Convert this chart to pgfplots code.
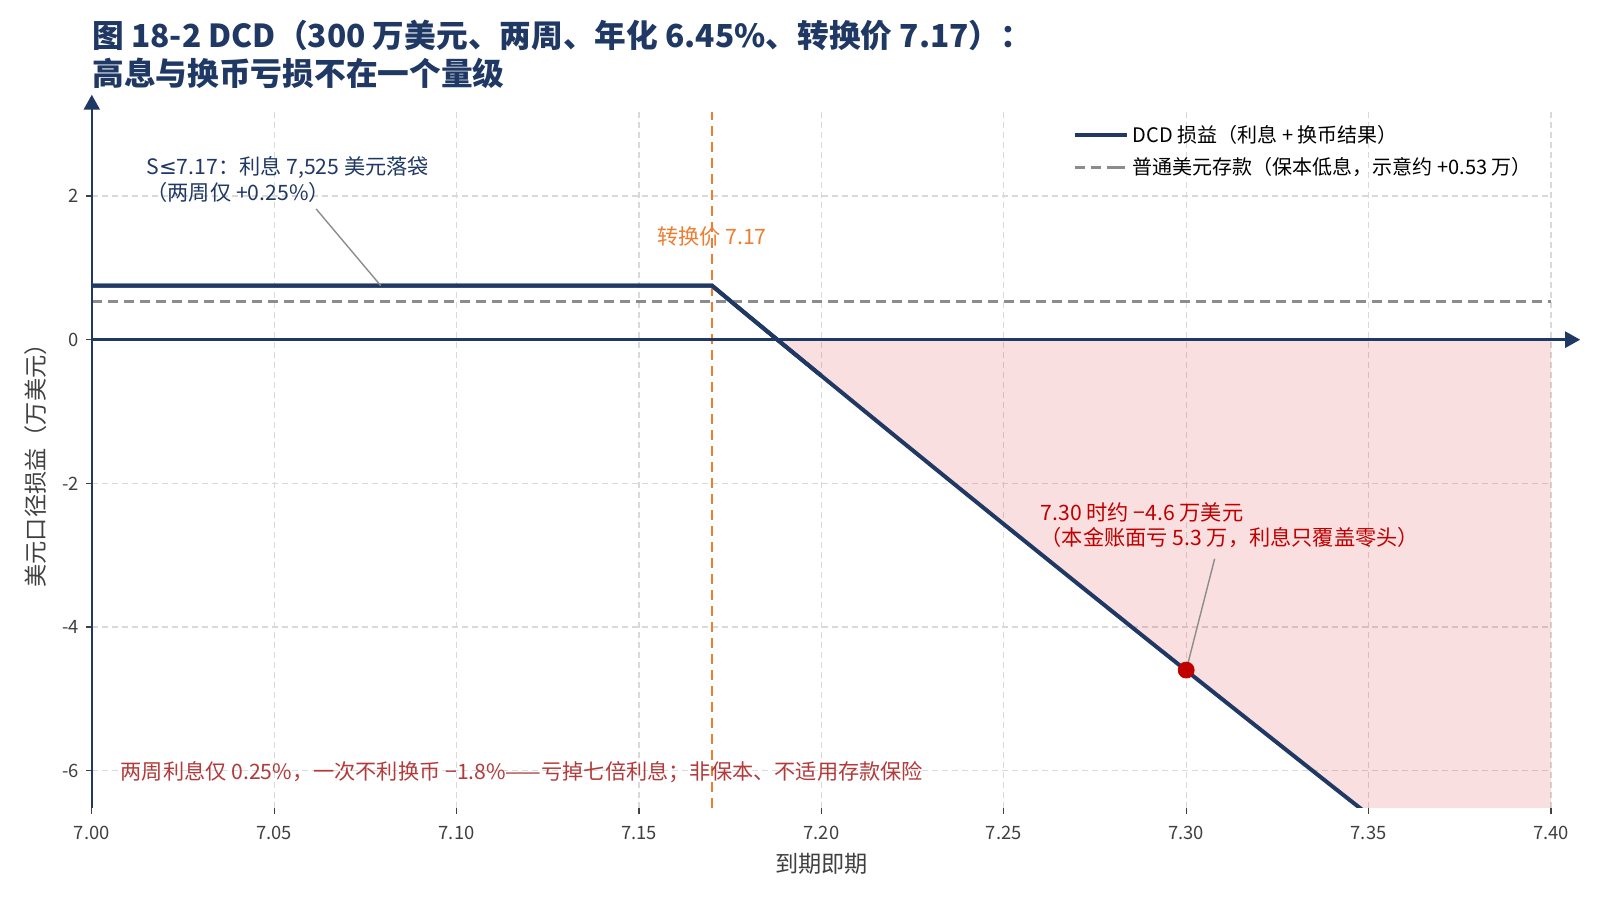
\documentclass[border=0pt]{standalone}
\usepackage{fontspec}
\setmainfont{Noto Sans CJK SC}
\newfontfamily\dejavu{DejaVu Sans}
\usepackage{pgfplots}
\pgfplotsset{compat=1.18}
\usetikzlibrary{arrows.meta}
\definecolor{navy}{HTML}{1F3864}
\definecolor{orng}{HTML}{ED7D31}
\definecolor{dgray}{HTML}{8C8C8C}
\definecolor{pinkbase}{HTML}{D62728}
\definecolor{dred}{HTML}{C00000}
\definecolor{brred}{HTML}{B23A3A}
\definecolor{gridc}{HTML}{D9D9D9}
\definecolor{tickc}{HTML}{404040}
\begin{document}
\begin{tikzpicture}
\path[use as bounding box] (0,0) rectangle (800bp,450bp);
\node[anchor=base west, inner sep=0pt, text=navy, font=\fontsize{15.85bp}{18bp}\selectfont\bfseries] at (46bp,426bp) {图 18-2 DCD（300 万美元、两周、年化 6.45\%、转换价 7.17）：};
\node[anchor=base west, inner sep=0pt, text=navy, font=\fontsize{15.85bp}{18bp}\selectfont\bfseries] at (46bp,407bp) {高息与换币亏损不在一个量级};
\begin{axis}[
  at={(45.9bp,46bp)}, anchor=south west,
  width=729.6bp, height=348bp, scale only axis,
  xmin=7.0, xmax=7.40, ymin=-6.52, ymax=3.17,
  xtick={7.00,7.05,7.10,7.15,7.20,7.25,7.30,7.35,7.40},
  ytick={-6,-4,-2,0,2},
  xticklabel style={yshift=-2.5bp, /pgf/number format/.cd, fixed, fixed zerofill, precision=2},
  /pgf/number format/assume math mode=true,
  ticklabel style={font=\fontsize{9.2bp}{10bp}\selectfont, text=tickc},
  axis line style={draw=none},
  tick style={color=tickc, line width=0.6bp},
  major tick length=3bp,
  tick align=outside,
  xtick pos=bottom, ytick pos=left,
  grid=major,
  grid style={color=gridc, line width=0.6bp, dash pattern=on 3bp off 2bp},
  xlabel={到期即期}, ylabel={美元口径损益（万美元）},
  every axis x label/.style={at={(rel axis cs:0.5,0)}, yshift=-28bp, anchor=center, font=\fontsize{11.6bp}{13bp}\selectfont, text=tickc},
  every axis y label/.style={at={(rel axis cs:0,0.5)}, xshift=-28bp, rotate=90, anchor=center, font=\fontsize{11.6bp}{13bp}\selectfont, text=tickc},
  legend style={at={(rel axis cs:0.668,0.993)}, anchor=north west, draw=none, fill=none, font=\fontsize{10bp}{11.5bp}\selectfont, row sep=2bp, cells={anchor=west}},
  legend image code/.code={\draw[#1] (0bp,0bp) -- (20bp,0bp); \path (20bp,0bp) -- (26bp,0bp);},
]
% pink loss area
\addplot[draw=none, fill=pinkbase, fill opacity=0.15, forget plot] coordinates {
 (7.1879,0) (7.19,-0.087) (7.20,-0.503) (7.21,-0.918) (7.22,-1.333) (7.23,-1.746)
 (7.24,-2.158) (7.25,-2.569) (7.26,-2.978) (7.27,-3.387) (7.28,-3.794) (7.29,-4.201)
 (7.30,-4.606) (7.31,-5.010) (7.32,-5.413) (7.33,-5.815) (7.34,-6.216) (7.35,-6.615)
 (7.36,-7.014) (7.38,-7.808) (7.40,-8.598) (7.40,0) } -- cycle;
% DCD payoff
\addplot[navy, line width=2bp] coordinates {
 (7.00,0.7525) (7.17,0.7525) (7.18,0.331) (7.19,-0.087) (7.20,-0.503) (7.21,-0.918)
 (7.22,-1.333) (7.23,-1.746) (7.24,-2.158) (7.25,-2.569) (7.26,-2.978) (7.27,-3.387)
 (7.28,-3.794) (7.29,-4.201) (7.30,-4.606) (7.31,-5.010) (7.32,-5.413) (7.33,-5.815)
 (7.34,-6.216) (7.35,-6.615) (7.36,-7.014) };
\addlegendentry{DCD 损益（利息 + 换币结果）}
% plain deposit
\addplot[dgray, line width=1.5bp, dash pattern=on 5bp off 3bp] coordinates {(7.00,0.53) (7.40,0.53)};
\addlegendentry{普通美元存款（保本低息，示意约 +0.53 万）}
% strike
\addplot[orng, line width=1.35bp, dash pattern=on 5bp off 3bp, forget plot] coordinates {(7.17,-6.52) (7.17,3.17)};
% redraw payoff above strike line
\addplot[navy, line width=2bp, forget plot] coordinates {
 (7.00,0.7525) (7.17,0.7525) (7.18,0.331) (7.19,-0.087) (7.20,-0.503) };
% marker
\addplot[only marks, mark=*, mark size=4bp, color=dred, forget plot] coordinates {(7.30,-4.6)};
% annotations
\draw[dgray, line width=0.7bp] (axis cs:7.0615,1.82) -- (axis cs:7.0792,0.7525);
\node[anchor=north west, inner sep=0pt, align=left, text=navy, font=\fontsize{10.6bp}{12.8bp}\selectfont] at (axis cs:7.0149,2.55) {S{\dejavu ≤}7.17：利息 7,525 美元落袋\\（两周仅 +0.25\%）};
\node[anchor=center, inner sep=0pt, text=orng, font=\fontsize{10.6bp}{12bp}\selectfont] at (axis cs:7.17,1.436) {转换价 7.17};
\draw[dgray, line width=0.7bp] (axis cs:7.3078,-3.05) -- (axis cs:7.30,-4.6);
\node[anchor=north west, inner sep=0pt, align=left, text=dred, font=\fontsize{10.6bp}{12.8bp}\selectfont] at (axis cs:7.260,-2.26) {7.30 时约 −4.6 万美元\\（本金账面亏 5.3 万，利息只覆盖零头）};
\node[anchor=west, inner sep=0pt, text=brred, font=\fontsize{10.6bp}{12bp}\selectfont] at (axis cs:7.0078,-6.02) {两周利息仅 0.25\%，一次不利换币 −1.8\%——亏掉七倍利息；非保本、不适用存款保险};
\coordinate (yb) at (axis cs:7.00,-6.52);
\coordinate (yt) at (axis cs:7.00,3.41);
\coordinate (xl) at (axis cs:7.00,0);
\coordinate (xr) at (axis cs:7.408,0);
\end{axis}
\draw[navy, line width=1.25bp, -{Triangle[length=7.5bp,width=8bp]}] (yb) -- (yt);
\draw[navy, line width=1.25bp, -{Triangle[length=7.5bp,width=8bp]}] (xl) -- (xr);
\end{tikzpicture}
\end{document}
